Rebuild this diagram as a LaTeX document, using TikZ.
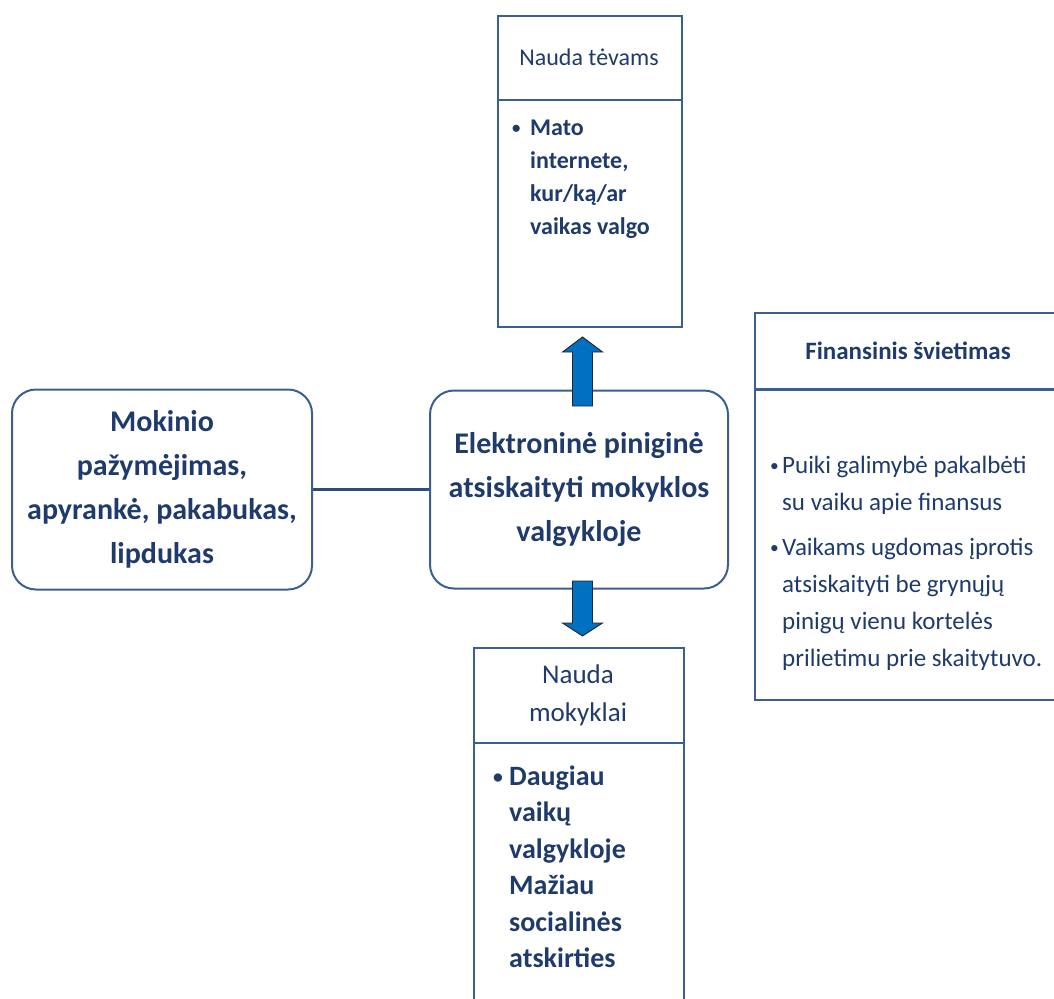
\documentclass[tikz,border=0pt]{standalone}
\usepackage{fontspec}
\usepackage{graphicx}
\setmainfont{Carlito}
\usetikzlibrary{calc}
\definecolor{navy}{HTML}{1F3B6C}
\definecolor{edge}{HTML}{3A5F90}
\definecolor{linkcol}{HTML}{2F4D7A}
\definecolor{arrowblue}{HTML}{0070C0}
\newcommand{\smallbul}{\raisebox{0.12ex}{\scalebox{0.7}{•}}}
\begin{document}
\begin{tikzpicture}[x=1pt,y=-1pt,
  box/.style={draw=edge, line width=2pt, rectangle, inner sep=0pt, text=navy},
  roundbox/.style={box, rounded corners=24pt, align=center, font=\fontsize{30}{44}\selectfont\bfseries},
  divider/.style={draw=edge, line width=2pt},
  txt/.style={text=navy, inner sep=0pt},
  link/.style={draw=linkcol, line width=2.5pt},
  blockarrow/.style={draw=black!85, line width=0.9pt, fill=arrowblue, line join=miter}
]
\useasboundingbox (0,0) rectangle (1054,998);

% left and centre boxes
\node[roundbox, minimum width=300pt, minimum height=200pt] (card) at (162,489.5)
  {Mokinio\\pažymėjimas,\\apyrankė, pakabukas,\\lipdukas};
\node[roundbox, minimum width=298pt, minimum height=198pt] (wallet) at (579,489.5)
  {Elektroninė piniginė\\atsiskaityti mokyklos\\valgykloje};
\draw[link] (card.east) -- (wallet.west);

% top box
\node[box, minimum width=184pt, minimum height=311pt, anchor=north west] (parents) at (497,15) {};
\draw[divider] (497,100) -- (681,100);
\node[txt, font=\fontsize{24}{28}\selectfont] (parentshead) at (589,57.5) {Nauda tėvams};
\node[txt, anchor=base west, font=\fontsize{24}{33}\selectfont\bfseries] (parentsbody) at (512,135)
  {\begin{tabular}[t]{@{}l@{}l@{}}\makebox[18pt][l]{\smallbul} & Mato\\ & internete,\\ & kur/ką/ar\\ & vaikas valgo\end{tabular}};

% bottom box (runs past the lower edge)
\node[box, minimum width=210pt, minimum height=380pt, anchor=north west] (school) at (473,647) {};
\draw[divider] (473,743) -- (683,743);
\node[txt, align=center, font=\fontsize{27}{38}\selectfont] (schoolhead) at (578,695) {Nauda\\mokyklai};
\node[txt, anchor=base west, font=\fontsize{28}{36.5}\selectfont\bfseries] (schoolbody) at (493,785)
  {\begin{tabular}[t]{@{}l@{}l@{}}\makebox[16pt][l]{\smallbul} & Daugiau\\ & vaikų\\ & valgykloje\\ & Mažiau\\ & socialinės\\ & atskirties\end{tabular}};

% right box (runs past the right edge)
\node[box, minimum width=330pt, minimum height=387pt, anchor=north west] (finance) at (754,312) {};
\draw[divider, line width=3pt] (754,389) -- (1084,389);
\node[txt, font=\fontsize{25}{30}\selectfont\bfseries] (financehead) at (908,351) {Finansinis švietimas};
\node[txt, anchor=base west, font=\fontsize{25}{37}\selectfont] (financebody) at (770,473)
  {\begin{tabular}[t]{@{}l@{}l@{}}\makebox[12pt][l]{\smallbul} & Puiki galimybė pakalbėti\\ & su vaiku apie finansus\\[8pt]
   \makebox[12pt][l]{\smallbul} & Vaikams ugdomas įprotis\\ & atsiskaityti be grynųjų\\ & pinigų vienu kortelės\\ & prilietimu prie skaitytuvo.\end{tabular}};

% block arrows
\draw[blockarrow] ($(wallet.north)+(-6.5,16.5)$) -- ++(0,-54) -- ++(-10,0) -- ++(20,-15) -- ++(20,15) -- ++(-10,0) -- ++(0,54) -- cycle;
\draw[blockarrow] ($(wallet.south)+(-6.5,-8.5)$) -- ++(0,42) -- ++(-10,0) -- ++(20,13) -- ++(20,-13) -- ++(-10,0) -- ++(0,-42) -- cycle;
\end{tikzpicture}
\end{document}
